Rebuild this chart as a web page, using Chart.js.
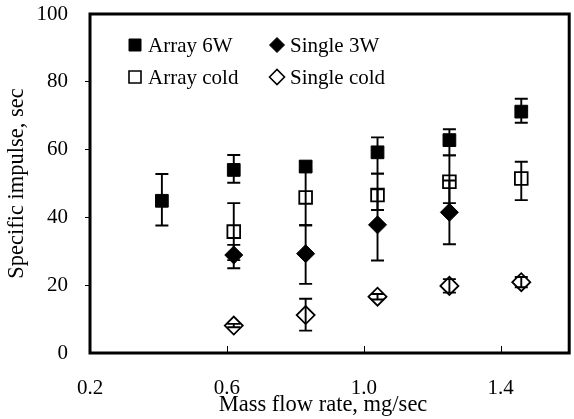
<!DOCTYPE html>
<html>
<head>
<meta charset="utf-8">
<title>Specific impulse vs mass flow rate</title>
<script src="https://cdn.jsdelivr.net/npm/chart.js@4.4.1/dist/chart.umd.min.js"></script>
<style>
  html, body { margin: 0; padding: 0; background: #fff; overflow: hidden; }
  #wrap { position: relative; width: 580px; height: 419px; }
</style>
</head>
<body>
<div id="wrap"><canvas id="impulseChart"></canvas></div>
<script>
  // Mass flow rate, mg/sec (shared x positions)
  const flowRates = [0.41, 0.62, 0.83, 1.04, 1.25, 1.46];

  // Specific impulse, sec, with upper / lower error amounts
  const array6W      = [44.9, 54.0, 55.0, 59.2, 62.8, 71.2];
  const array6WPlus  = [7.9, 4.4, 1.5, 4.4, 3.2, 3.8];
  const array6WMinus = [7.3, 3.8, 1.5, 6.3, 4.5, 3.3];

  const single3W      = [null, 28.9, 29.3, 37.8, 41.5, null];
  const single3WPlus  = [null, 3.0, 8.4, 10.5, 9.4, null];
  const single3WMinus = [null, 3.9, 8.9, 10.5, 9.4, null];

  const arrayCold      = [null, 35.8, 45.9, 46.6, 50.5, 51.5];
  const arrayColdPlus  = [null, 8.4, 8.2, 6.3, 7.8, 4.9];
  const arrayColdMinus = [null, 8.4, 8.2, 4.4, 6.3, 6.4];

  const singleCold      = [null, 8.1, 11.2, 16.6, 19.8, 20.9];
  const singleColdPlus  = [null, 0.5, 4.8, 0.8, 2.0, 1.5];
  const singleColdMinus = [null, 0.5, 4.6, 0.8, 2.0, 1.5];

  const xTicks = [0.2, 0.6, 1.0, 1.4];
  const yTicks = [0, 20, 40, 60, 80, 100];

  const FONT = "'Liberation Serif', 'Times New Roman', serif";

  const series = [
    { label: 'Array 6W', values: array6W, plus: array6WPlus, minus: array6WMinus, style: 'rect', filled: true },
    { label: 'Single 3W', values: single3W, plus: single3WPlus, minus: single3WMinus, style: 'rectRot', filled: true },
    { label: 'Array cold', values: arrayCold, plus: arrayColdPlus, minus: arrayColdMinus, style: 'rect', filled: false },
    { label: 'Single cold', values: singleCold, plus: singleColdPlus, minus: singleColdMinus, style: 'rectRot', filled: false }
  ];

  const datasets = series.map(s => ({
    label: s.label,
    data: flowRates.map((x, i) => ({ x: x, y: s.values[i] })).filter(p => p.y !== null),
    pointStyle: s.style,
    pointRadius: 9,
    borderColor: '#000',
    backgroundColor: s.filled ? '#000' : 'rgba(0,0,0,0)',
    borderWidth: s.filled ? 1 : 1.8,
    showLine: false
  }));

  // vertical error bars with caps, drawn under the markers
  const errorBars = {
    id: 'errorBars',
    beforeDatasetsDraw(chart) {
      const ctx = chart.ctx;
      const xs = chart.scales.x, ys = chart.scales.y;
      ctx.save();
      ctx.strokeStyle = '#000';
      ctx.lineWidth = 1.9;
      series.forEach(s => {
        flowRates.forEach((x, i) => {
          const v = s.values[i];
          if (v === null) return;
          const px = xs.getPixelForValue(x);
          const top = ys.getPixelForValue(v + s.plus[i]);
          const bot = ys.getPixelForValue(v - s.minus[i]);
          ctx.beginPath();
          ctx.moveTo(px, top);
          ctx.lineTo(px, bot);
          ctx.moveTo(px - 6.5, top);
          ctx.lineTo(px + 6.5, top);
          ctx.moveTo(px - 6.5, bot);
          ctx.lineTo(px + 6.5, bot);
          ctx.stroke();
        });
      });
      ctx.restore();
    }
  };

  function drawMarker(ctx, style, filled, x, y) {
    ctx.beginPath();
    if (style === 'rect') {
      ctx.rect(x - 6, y - 6, 12, 12);
    } else {
      ctx.moveTo(x - 7.5, y);
      ctx.lineTo(x, y - 7.5);
      ctx.lineTo(x + 7.5, y);
      ctx.lineTo(x, y + 7.5);
      ctx.closePath();
    }
    if (filled) {
      ctx.fillStyle = '#000';
      ctx.fill();
      ctx.lineWidth = 1;
    } else {
      ctx.lineWidth = 1.6;
    }
    ctx.strokeStyle = '#000';
    ctx.stroke();
  }

  // frame, inward x ticks, 2x2 legend and axis titles
  const decorations = {
    id: 'decorations',
    afterDraw(chart) {
      const ctx = chart.ctx;
      const a = chart.chartArea;
      const xs = chart.scales.x;
      ctx.save();

      ctx.strokeStyle = '#000';
      ctx.lineWidth = 1;
      xTicks.slice(1).forEach(v => {
        const px = Math.round(xs.getPixelForValue(v)) + 0.5;
        ctx.beginPath();
        ctx.moveTo(px, a.bottom);
        ctx.lineTo(px, a.bottom - 7);
        ctx.stroke();
      });

      ctx.lineWidth = 3;
      ctx.strokeRect(a.left, a.top, a.right - a.left, a.bottom - a.top);

      ctx.font = '21px ' + FONT;
      ctx.fillStyle = '#000';
      ctx.textBaseline = 'middle';
      ctx.textAlign = 'left';
      series.forEach((s, i) => {
        const mx = a.left + 45 + (i % 2) * 142;
        const my = a.top + 31 + Math.floor(i / 2) * 32;
        drawMarker(ctx, s.style, s.filled, mx, my);
        ctx.fillStyle = '#000';
        ctx.fillText(s.label, mx + 13, my + 1);
      });

      ctx.font = '22.5px ' + FONT;
      ctx.textBaseline = 'alphabetic';
      ctx.textAlign = 'center';
      ctx.fillText('Mass flow rate, mg/sec', 323, 411);

      ctx.translate(23, (a.top + a.bottom) / 2);
      ctx.rotate(-Math.PI / 2);
      ctx.fillText('Specific impulse, sec', 0, 0);
      ctx.restore();
    }
  };

  new Chart(document.getElementById('impulseChart'), {
    type: 'scatter',
    data: { datasets: datasets },
    options: {
      responsive: true,
      maintainAspectRatio: false,
      animation: false,
      events: [],
      layout: { padding: { left: 0, top: 14, right: 3, bottom: 0 } },
      plugins: {
        legend: { display: false },
        tooltip: { enabled: false }
      },
      scales: {
        x: {
          type: 'linear',
          min: 0.2,
          max: 1.6,
          afterBuildTicks: scale => { scale.ticks = xTicks.map(v => ({ value: v })); },
          afterFit: scale => {
            scale.height = 66;
            scale.paddingLeft = 0;
            scale.paddingRight = 0;
          },
          border: { display: false },
          grid: { display: true, drawOnChartArea: false, drawTicks: false },
          ticks: {
            padding: 23,
            color: '#000',
            font: { family: FONT, size: 21 },
            maxRotation: 0,
            callback: v => v.toFixed(1)
          }
        },
        y: {
          min: 0,
          max: 100,
          afterBuildTicks: scale => { scale.ticks = yTicks.map(v => ({ value: v })); },
          afterFit: scale => {
            scale.width = 90;
            scale.paddingTop = 0;
            scale.paddingBottom = 0;
          },
          border: { display: false },
          grid: {
            drawOnChartArea: false,
            tickLength: 5,
            tickWidth: 1,
            color: c => (c.tick && (c.tick.value === 0 || c.tick.value === 100)) ? 'rgba(0,0,0,0)' : '#000'
          },
          ticks: {
            padding: 17,
            color: '#000',
            font: { family: FONT, size: 21 }
          }
        }
      }
    },
    plugins: [errorBars, decorations]
  });
</script>
</body>
</html>
